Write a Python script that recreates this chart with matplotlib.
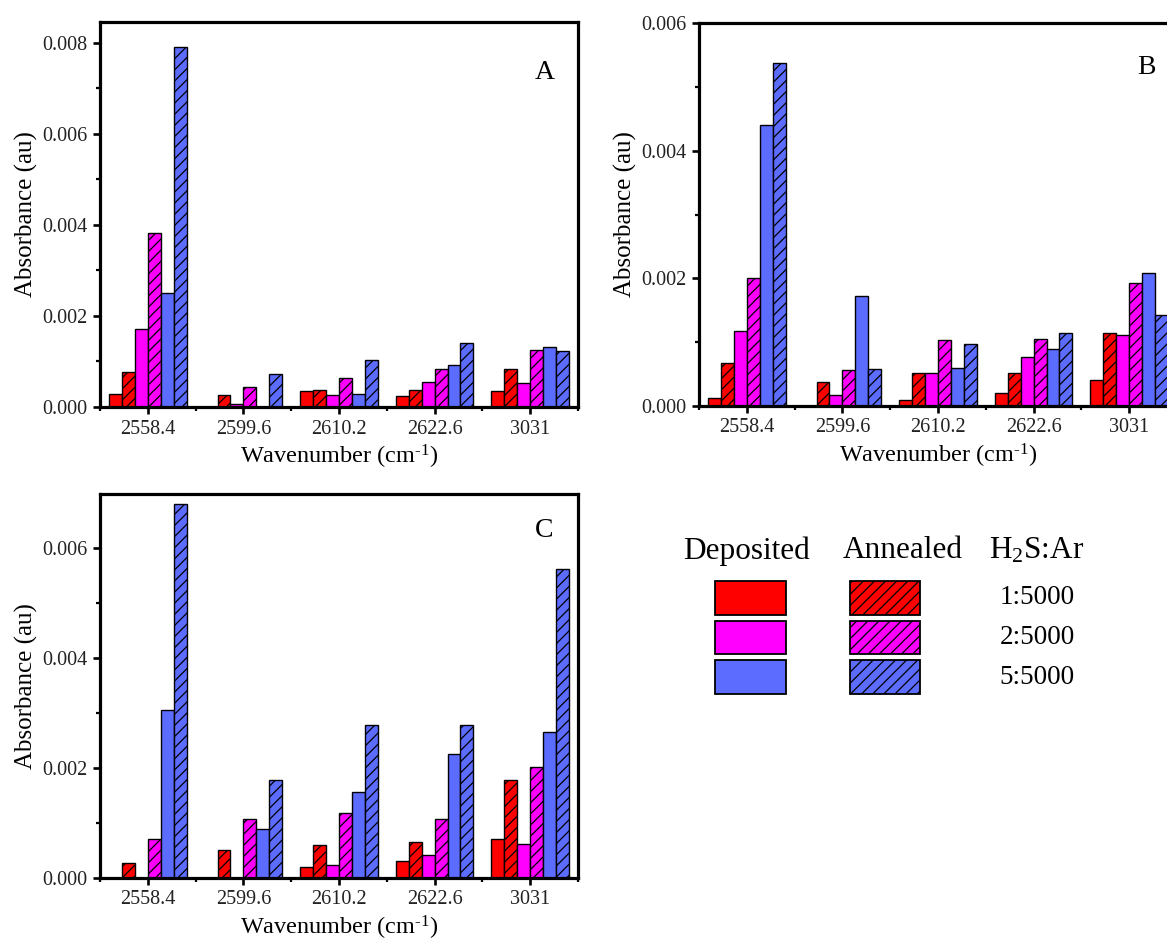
import matplotlib
matplotlib.use("Agg")
import matplotlib.pyplot as plt
import numpy as np
from matplotlib.patches import Rectangle
from matplotlib.ticker import MultipleLocator, FormatStrFormatter, FixedLocator

plt.rcParams['font.family'] = ['Liberation Serif', 'DejaVu Serif']
plt.rcParams['mathtext.fontset'] = 'custom'
plt.rcParams['mathtext.rm'] = 'Liberation Serif'
plt.rcParams['mathtext.it'] = 'Liberation Serif:italic'
plt.rcParams['mathtext.default'] = 'regular'
plt.rcParams['hatch.linewidth'] = 0.9

categories = ['2558.4', '2599.6', '2610.2', '2622.6', '3031']
series_labels = ['Deposited 1:5000', 'Annealed 1:5000', 'Deposited 2:5000',
                 'Annealed 2:5000', 'Deposited 5:5000', 'Annealed 5:5000']

# Panel A
a_dep_1 = [0.00029, 0.0, 0.00035, 0.000235, 0.00035]
a_ann_1 = [0.00078, 0.00026, 0.00038, 0.00038, 0.000835]
a_dep_2 = [0.00171, 0.00007, 0.00026, 0.000556, 0.00052]
a_ann_2 = [0.00383, 0.00043, 0.00064, 0.000835, 0.00126]
a_dep_5 = [0.00251, 0.0, 0.00029, 0.00092, 0.00132]
a_ann_5 = [0.0079, 0.00073, 0.00103, 0.00141, 0.00123]

# Panel B
b_dep_1 = [0.00013, 0.0, 0.000094, 0.00021, 0.0004]
b_ann_1 = [0.00068, 0.00038, 0.00052, 0.00052, 0.00115]
b_dep_2 = [0.00117, 0.00017, 0.00052, 0.00076, 0.00111]
b_ann_2 = [0.0020, 0.00056, 0.00103, 0.00105, 0.00192]
b_dep_5 = [0.0044, 0.00172, 0.000595, 0.00089, 0.00209]
b_ann_5 = [0.00538, 0.000575, 0.00097, 0.00115, 0.00143]

# Panel C
c_dep_1 = [0.0, 0.0, 0.0002, 0.000315, 0.0007]
c_ann_1 = [0.00027, 0.00051, 0.0006, 0.00065, 0.00179]
c_dep_2 = [0.0, 0.0, 0.000236, 0.00041, 0.00062]
c_ann_2 = [0.00071, 0.00107, 0.00118, 0.00107, 0.00202]
c_dep_5 = [0.00305, 0.000885, 0.00157, 0.00225, 0.00265]
c_ann_5 = [0.0068, 0.00178, 0.00279, 0.00279, 0.00562]

RED = '#FF0000'
MAG = '#FF00FF'
BLUE = '#5B6CFF'
colors = [RED, RED, MAG, MAG, BLUE, BLUE]
hatches = [None, '///', None, '///', None, '///']

W, H = 1167, 942
fig = plt.figure(figsize=(W / 100, H / 100), dpi=100)


def px_axes(left, top, right, bottom):
    return fig.add_axes([left / W, 1 - bottom / H, (right - left) / W, (bottom - top) / H])


def draw_panel(ax, series, ymax, letter, lpos):
    x = np.arange(1, len(categories) + 1)
    bw = 0.135
    for i, vals in enumerate(series):
        ax.bar(x + (i - 2.5) * bw, vals, width=bw, color=colors[i], hatch=hatches[i],
               edgecolor='black', linewidth=1.0, label=series_labels[i], zorder=2)
    ax.set_xlim(0.5, 5.5)
    ax.set_ylim(0, ymax)
    ax.set_xticks(x)
    ax.set_xticklabels(categories)
    ax.xaxis.set_minor_locator(FixedLocator(np.arange(0.5, 6.0, 1.0)))
    ax.yaxis.set_major_locator(MultipleLocator(0.002))
    ax.yaxis.set_minor_locator(MultipleLocator(0.001))
    ax.yaxis.set_major_formatter(FormatStrFormatter('%.3f'))
    for s in ax.spines.values():
        s.set_linewidth(2.3)
    ax.tick_params(which='major', direction='out', length=5, width=1.9,
                   labelsize=14.5, labelcolor='#222222', pad=4)
    ax.tick_params(which='minor', direction='out', length=3, width=1.6)
    ax.set_ylabel('Absorbance (au)', fontsize=18, labelpad=3)
    ax.set_xlabel('Wavenumber (cm$^{\\text{-}1}$)', fontsize=17.5, labelpad=3)
    ax.text(lpos[0], lpos[1], letter, transform=ax.transAxes, fontsize=20,
            ha='center', va='center')


axA = px_axes(100, 22, 578, 407)
draw_panel(axA, [a_dep_1, a_ann_1, a_dep_2, a_ann_2, a_dep_5, a_ann_5], 0.00846, 'A', (0.931, 0.87))

axB = px_axes(699, 23, 1177, 406)
draw_panel(axB, [b_dep_1, b_ann_1, b_dep_2, b_ann_2, b_dep_5, b_ann_5], 0.006, 'B', (0.937, 0.885))

axC = px_axes(100, 494, 578, 878)
draw_panel(axC, [c_dep_1, c_ann_1, c_dep_2, c_ann_2, c_dep_5, c_ann_5], 0.00698, 'C', (0.929, 0.906))

# Custom legend
lg = fig.add_axes([0, 0, 1, 1])
lg.set_xlim(0, W)
lg.set_ylim(H, 0)
lg.axis('off')
lg.patch.set_alpha(0)
lg.text(747, 551, 'Deposited', fontsize=22.5, ha='center', va='center')
lg.text(903, 551, 'Annealed', fontsize=22.5, ha='center', va='center')
lg.text(1037, 551, 'H$_2$S:Ar', fontsize=22.5, ha='center', va='center')
leg_colors = [RED, MAG, BLUE]
leg_labels = ['1:5000', '2:5000', '5:5000']
for k in range(3):
    y0 = 581 + k * 39.5
    lg.add_patch(Rectangle((715, y0), 71, 33.5, facecolor=leg_colors[k],
                           edgecolor='black', linewidth=1.3))
    lg.add_patch(Rectangle((850, y0), 70, 33.5, facecolor=leg_colors[k],
                           edgecolor='black', linewidth=1.3, hatch='///'))
    lg.text(1037, y0 + 17, leg_labels[k], fontsize=19.5, ha='center', va='center')

fig.savefig('out.png', dpi=100)
